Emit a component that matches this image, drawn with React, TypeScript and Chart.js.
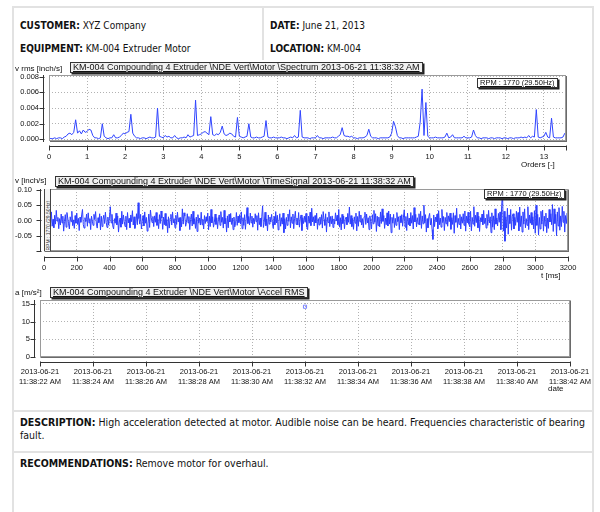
import React, { useEffect, useRef } from "react";
import { Chart, registerables } from "chart.js";

Chart.register(...registerables);

const CHART_FONT = '"Liberation Sans", Arial, sans-serif';
const REPORT_FONT = '"DejaVu Sans Condensed", "DejaVu Sans", sans-serif';

// ---------- Spectrum (v rms vs orders) ----------
const spectrumTitle = "KM-004 Compounding 4 Extruder \\NDE Vert\\Motor \\Spectrum 2013-06-21 11:38:32 AM";
const spectrumStepOrders = 0.05;
// v rms in units of 0.0001 inch/s, one value per 0.05 order bin (0 .. 13.55)
const spectrumValuesE4 = [
  2, 1, 1, 2, 1, 2, 2, 1, 3, 4, 7, 8, 6, 9, 25, 8, 11, 7, 12, 9,
  10, 13, 12, 5, 2, 2, 1, 2, 20, 4, 2, 1, 2, 2, 6, 2, 2, 3, 5, 8,
  7, 9, 10, 32, 8, 4, 2, 2, 1, 2, 2, 1, 2, 3, 2, 2, 3, 40, 4, 3,
  2, 5, 3, 4, 2, 2, 5, 2, 1, 2, 2, 3, 2, 6, 3, 4, 5, 50, 5, 6,
  7, 9, 10, 8, 6, 29, 6, 5, 7, 6, 9, 17, 7, 5, 6, 8, 7, 4, 3, 28,
  4, 3, 2, 3, 4, 20, 3, 2, 2, 3, 2, 2, 3, 4, 24, 3, 2, 2, 3, 2,
  2, 2, 3, 2, 2, 1, 2, 3, 2, 5, 2, 3, 37, 3, 2, 2, 2, 1, 2, 2,
  2, 5, 2, 2, 1, 2, 2, 2, 2, 3, 2, 2, 4, 6, 15, 5, 4, 4, 3, 4,
  2, 2, 1, 2, 2, 2, 3, 5, 13, 4, 2, 2, 2, 1, 2, 2, 2, 2, 2, 3,
  8, 23, 16, 5, 2, 2, 1, 2, 2, 2, 2, 2, 2, 3, 4, 22, 64, 5, 47, 4,
  2, 2, 2, 3, 2, 2, 2, 2, 3, 8, 2, 3, 6, 2, 2, 2, 2, 2, 4, 2,
  2, 2, 3, 12, 5, 2, 2, 1, 2, 2, 2, 1, 2, 2, 1, 2, 2, 2, 1, 2,
  2, 1, 2, 2, 1, 2, 2, 2, 3, 2, 3, 2, 5, 2, 4, 3, 38, 3, 2, 3,
  4, 9, 3, 2, 27, 3, 2, 2, 2, 2, 3, 8,
];
const spectrumXTicks = [0, 1, 2, 3, 4, 5, 6, 7, 8, 9, 10, 11, 12, 13];
const spectrumYTicks = [0, 0.002, 0.004, 0.006, 0.008];

// ---------- Time signal (v vs ms) ----------
const timeTitle = "KM-004 Compounding 4 Extruder \\NDE Vert\\Motor \\TimeSignal 2013-06-21 11:38:32 AM";
const timeStepMs = 5;
// v in units of 0.001 inch/s, one value per 5 ms (0 .. 3200 ms)
const timeSignalE3 = [
  8, -14, 22, -5, 12, -30, -6, 15, -10, 28, -19, 4, -24, 17, -12, 33, -2, 10, -27, 6,
  -15, 21, -8, 14, -35, -3, 19, -22, 26, 8, -11, -28, 12, -4, 30, -17, 2, -26, 16, -9,
  24, -13, 7, -33, 11, -6, 18, 36, -14, -25, 9, -4, 21, -19, 25, -8, 6, -30, 14, -2,
  -16, 20, 3, 29, -12, -25, 9, -7, 22, -31, 14, -20, 4, 17, -10, 27, -6, -23, 11, -15,
  12, 45, -8, 20, -18, -28, 6, -9, 24, -14, 15, -38, -5, 8, -22, 30, -12, 18, -3, -20,
  14, -30, 26, -8, 7, -24, 18, -4, 32, -15, 12, -26, -10, 22, -14, 58, 6, -12, 20, -28,
  -2, 16, -18, 28, -9, 10, -35, -11, 21, -23, 34, 9, -7, 13, -20, 15, -6, 26, -16, 4,
  -27, 19, -10, 31, 8, -29, 11, -14, 23, -17, 3, -40, 12, -25, 7, 20, -15, 28, -8, 6,
  -24, 17, -13, 27, -5, 9, -33, 10, -21, 38, -12, 25, 14, -19, -6, 22, -8, 13, -30, 3,
  21, -18, 30, -12, 6, -26, 11, -36, 19, -9, 8, -15, 27, -14, 4, -28, 16, -10, 12, -3,
  24, -31, 14, -20, 36, -8, 12, -22, -7, 21, -13, 9, -27, 5, 18, -16, 29, -6, 10, -25,
  33, -11, 7, -38, 15, -24, 20, -5, 23, -13, 8, -30, 11, -21, -9, 26, -16, 14, -7, 19,
  -12, 28, -27, 9, -16, 19, -29, 5, 42, -10, 13, -15, 24, -8, 14, -22, 7, -11, 22, -4,
  16, -32, 25, -14, 8, -20, 12, 48, -23, -6, 27, -17, 5, -34, 18, -12, 11, -5, 20, -9,
  -26, 13, -14, 29, -8, 17, -31, -4, 22, -19, 9, -12, 24, -40, 6, -28, 10, -16, 21, -3,
  35, -24, 12, -9, 21, -27, 7, 30, -13, 8, -15, 26, -22, 5, 18, -33, 9, -10, 14, -6,
  23, -21, -30, 14, -9, 27, -17, 40, -5, 12, -18, 16, -8, 24, -29, 6, -15, 11, -12, 19,
  -25, 29, 3, -16, 22, -38, 10, -7, 28, -20, 13, -11, 15, -23, 5, -12, 25, -2, 17, -14,
  36, -22, 9, -31, 20, -10, 14, -27, 4, 11, -14, 23, -6, 44, -12, 16, -20, 7, -29, 12,
  -9, 24, -34, 13, -19, 30, -5, 18, -15, 6, -24, 12, 27, -13, 21, -8, 9, -30, 15, -4,
  -28, 19, -11, 33, -6, 22, -36, 14, -17, 11, -21, 28, -10, 38, -3, 16, -26, 8, -14, 25,
  -18, 31, -12, 21, -40, 10, -9, 20, -23, 7, -16, 26, -4, 12, -30, 15, -7, 19, -19, 11,
  35, -22, 13, -33, 24, -14, 8, -18, 26, -9, 16, -28, 42, -5, 20, -21, 9, -12, 22, -15,
  30, -26, 15, -11, 50, -8, 19, -38, 6, -24, 12, 23, -15, 7, -30, -62, 18, -20, 11, -5,
  21, -27, 32, -14, 8, -22, 36, -7, 13, -33, 10, -11, 26, -19, 15, -4, 24, -29, 9, -13,
  25, -42, 16, -6, 40, -23, 7, -13, 20, -28, 12, -9, 22, -16, 31, -35, 14, -8, 27, -12,
  -21, 30, -34, 10, -12, 45, -19, 17, -7, 27, -24, 14, -36, 9, -5, 21, -14, 33, -10, 8,
  -25, 20, -16, 33, -8, 12, -40, 25, -22, 15, -30, 38, -12, 8, -18, 23, -6, 28, -30, 48,
  95, -35, 30, -68, 12, -25, 40, -45, 18, -10, 36, -32, 14, 22, -28, 10, -16, 30, -6, 26,
  -34, 44, -20, 15, -38, 28, -12, 38, -24, 6, -16, 45, -30, 18, -9, 26, -14, 12, -28, 32,
  -42, 50, -16, 20, -48, 10, -28, 30, -12, 34, -35, 14, -18, 24, -40, 8, -26, 36, -5, 22,
  -14, 52, -36, 38, -10, 20, -50, 28, -18, 42, -32, 15, -20, 46, -6, 30, -38, 16, -10, 24,
  -8,
];
const timeXTicks = [0, 200, 400, 600, 800, 1000, 1200, 1400, 1600, 1800, 2000, 2200, 2400, 2600, 2800, 3000, 3200];
const timeYTicks = [-0.1, -0.05, 0, 0.05, 0.1];

// ---------- Accel RMS trend ----------
const accelTitle = "KM-004 Compounding 4 Extruder \\NDE Vert\\Motor \\Accel RMS";
const accelDate = "2013-06-21";
const accelTimePrefix = "11:38:";
const accelSeconds = [32];
const accelValues = [14.2];
const accelXTicks = [22, 24, 26, 28, 30, 32, 34, 36, 38, 40, 42];
const accelYTicks = [0, 5, 10, 15];

const rpmLabel = "RPM : 1770 (29.50Hz)";

// ---------- plugin: framed plot box + detached axis lines ----------
const axesFramePlugin = {
  id: "axesFrame",
  afterDraw(chart: any, _args: any, opts: any) {
    const { ctx, chartArea: a, scales } = chart;
    const xs = scales.x;
    const ys = scales.y;
    const L = Math.round(a.left);
    const R = Math.round(a.right);
    const T = Math.round(a.top);
    const B = Math.round(a.bottom);
    ctx.save();
    ctx.lineWidth = 1;
    ctx.strokeStyle = "#9a9a9a";
    ctx.strokeRect(L + 0.5, T + 0.5, R - L - 1, B - T - 1);
    ctx.strokeStyle = "#6a6a6a";
    ctx.beginPath();
    ctx.moveTo(R + 0.5, T + 1);
    ctx.lineTo(R + 0.5, B + 1);
    ctx.moveTo(L + 1, B + 0.5);
    ctx.lineTo(R + 1, B + 0.5);
    ctx.stroke();

    ctx.strokeStyle = "#333";
    ctx.beginPath();
    const yx = L - opts.yGap + 0.5;
    ctx.moveTo(yx, T);
    ctx.lineTo(yx, B + 1);
    for (const t of ys.ticks) {
      const py = Math.round(ys.getPixelForValue(t.value)) + 0.5;
      ctx.moveTo(yx - opts.tick, py);
      ctx.lineTo(yx + 1, py);
    }
    const xy = B + opts.xGap + 0.5;
    ctx.moveTo(L, xy);
    ctx.lineTo(R + 1, xy);
    for (const t of xs.ticks) {
      const px = Math.round(xs.getPixelForValue(t.value)) + 0.5;
      ctx.moveTo(px, xy - 1);
      ctx.lineTo(px, xy + opts.tick);
    }
    if (opts.endTick) {
      ctx.moveTo(R + 0.5, xy - 1);
      ctx.lineTo(R + 0.5, xy + opts.tick);
    }
    ctx.stroke();
    ctx.restore();
  },
};

const tickFont = { family: CHART_FONT, size: 7.5 };
const gridStyle = { color: "#b2b2b2", drawTicks: false, lineWidth: 1 };
const borderStyle = { display: false, dash: [1, 2] };

function baseOptions(padding: any, frame: any) {
  return {
    animation: false,
    responsive: false,
    events: [],
    layout: { padding },
    plugins: { legend: { display: false }, tooltip: { enabled: false }, axesFrame: frame },
  };
}

function spectrumConfig() {
  return {
    type: "line",
    data: {
      datasets: [
        {
          data: spectrumValuesE4.map((v, i) => ({ x: i * spectrumStepOrders, y: v / 10000 })),
          borderColor: "#2f44ff",
          borderWidth: 1,
          pointRadius: 0,
          tension: 0,
          fill: false,
        },
      ],
    },
    options: {
      ...baseOptions({ left: 0, right: 34, top: 15, bottom: 4 }, { yGap: 6, xGap: 5, tick: 4, endTick: true }),
      scales: {
        x: {
          type: "linear", min: 0, max: 13.58, grid: gridStyle, border: borderStyle,
          afterBuildTicks: (s: any) => { s.ticks = spectrumXTicks.map((v) => ({ value: v })); },
          afterFit: (s: any) => { s.height = 25; },
          ticks: { padding: 11, color: "#111", font: tickFont, maxRotation: 0, autoSkip: false, callback: (v: any) => String(v) },
        },
        y: {
          type: "linear", min: -0.0002, max: 0.0082, grid: gridStyle, border: borderStyle,
          afterBuildTicks: (s: any) => { s.ticks = spectrumYTicks.map((v) => ({ value: v })); },
          afterFit: (s: any) => { s.width = 49; },
          ticks: { padding: 10, color: "#111", font: tickFont, callback: (v: any) => Number(v).toFixed(3) },
        },
      },
    },
    plugins: [axesFramePlugin],
  };
}

function timeConfig() {
  return {
    type: "line",
    data: {
      datasets: [
        {
          data: timeSignalE3.map((v, i) => ({ x: i * timeStepMs, y: v / 1000 })),
          borderColor: "#2b3dff",
          borderWidth: 1,
          pointRadius: 0,
          tension: 0,
          fill: false,
        },
      ],
    },
    options: {
      ...baseOptions({ left: 0, right: 32, top: 19, bottom: 4 }, { yGap: 4, xGap: 6, tick: 4, endTick: false }),
      scales: {
        x: {
          type: "linear", min: 0, max: 3200, grid: gridStyle, border: borderStyle,
          afterBuildTicks: (s: any) => { s.ticks = timeXTicks.map((v) => ({ value: v })); },
          afterFit: (s: any) => { s.height = 25; },
          ticks: { padding: 12, color: "#111", font: tickFont, maxRotation: 0, autoSkip: false, callback: (v: any) => String(v) },
        },
        y: {
          type: "linear", min: -0.1, max: 0.103, grid: gridStyle, border: borderStyle,
          afterBuildTicks: (s: any) => { s.ticks = timeYTicks.map((v) => ({ value: v })); },
          afterFit: (s: any) => { s.width = 44; },
          ticks: {
            padding: 12, color: "#111", font: tickFont,
            callback: (v: any) => (Math.abs(Number(v) + 0.1) < 1e-9 ? "" : Number(v).toFixed(2)),
          },
        },
      },
    },
    plugins: [axesFramePlugin],
  };
}

function accelConfig() {
  return {
    type: "scatter",
    data: {
      datasets: [
        {
          data: accelSeconds.map((s, i) => ({ x: s, y: accelValues[i] })),
          pointStyle: "rect",
          pointRadius: 2.2,
          borderColor: "#7a82ff",
          backgroundColor: "rgba(255,255,255,0)",
          borderWidth: 1,
        },
      ],
    },
    options: {
      ...baseOptions({ left: 0, right: 29, top: 20, bottom: 4 }, { yGap: 6, xGap: 5, tick: 4, endTick: false }),
      scales: {
        x: {
          type: "linear", min: 22, max: 42, grid: gridStyle, border: borderStyle,
          afterBuildTicks: (s: any) => { s.ticks = accelXTicks.map((v) => ({ value: v })); },
          afterFit: (s: any) => { s.height = 39; },
          ticks: {
            padding: 9, color: "#111", font: { ...tickFont, lineHeight: 1.45 }, maxRotation: 0, autoSkip: false,
            callback: (v: any) => [accelDate, `${accelTimePrefix}${v} AM`],
          },
        },
        y: {
          type: "linear", min: 0, max: 16.1, grid: gridStyle, border: borderStyle,
          afterBuildTicks: (s: any) => { s.ticks = accelYTicks.map((v) => ({ value: v })); },
          afterFit: (s: any) => { s.width = 40; },
          ticks: { padding: 10, color: "#111", font: tickFont, callback: (v: any) => String(v) },
        },
      },
    },
    plugins: [axesFramePlugin],
  };
}

function ChartCanvas({ top, height, makeConfig }: { top: number; height: number; makeConfig: () => any }) {
  const ref = useRef<HTMLCanvasElement>(null);
  useEffect(() => {
    const chart = new Chart(ref.current as HTMLCanvasElement, makeConfig());
    return () => chart.destroy();
  }, []);
  return (
    <canvas
      ref={ref}
      width={600}
      height={height}
      style={{ position: "absolute", left: 0, top, width: 600, height, display: "block" }}
    />
  );
}

const titleBox = (left: number, top: number, text: string, bg = "#f0f0f0", size = 9) => (
  <div
    style={{
      position: "absolute",
      left,
      top,
      border: "1px solid #333",
      boxShadow: "1.5px 1.5px 0 #222",
      background: bg,
      font: `${size}px ${CHART_FONT}`,
      lineHeight: `${Math.round(size)}px`,
      padding: "0 2px",
      textDecoration: "underline",
      color: "#111",
      whiteSpace: "nowrap",
    }}
  >
    {text}
  </div>
);

const axisText = (left: number, top: number, text: React.ReactNode) => (
  <div style={{ position: "absolute", left, top, font: `8px ${CHART_FONT}`, lineHeight: "9px", color: "#111", whiteSpace: "nowrap" }}>
    {text}
  </div>
);

const line = (left: number, top: number, width: number, height: number) => (
  <div style={{ position: "absolute", left, top, width, height, background: "#e2e2e2" }} />
);

const reportText = (left: number, top: number, label: string, value: React.ReactNode, size = 10, lh = 13) => (
  <div
    style={{
      position: "absolute",
      left,
      top,
      font: `${size}px ${REPORT_FONT}`,
      lineHeight: `${lh}px`,
      color: "#111",
      whiteSpace: "nowrap",
    }}
  >
    <b>{label}</b> {value}
  </div>
);

export default function App() {
  return (
    <div style={{ position: "fixed", left: 0, top: 0, width: 600, height: 512, background: "#fff", overflow: "hidden" }}>
      {line(12, 6, 581, 2)}
      {line(12, 6, 2, 506)}
      {line(592, 6, 2, 506)}
      {line(262, 6, 2, 54)}
      {line(12, 410, 581, 2)}
      {line(12, 451, 581, 2)}

      {reportText(20, 19, "CUSTOMER:", "XYZ Company")}
      {reportText(20, 42, "EQUIPMENT:", "KM-004 Extruder Motor")}
      {reportText(270, 19, "DATE:", "June 21, 2013")}
      {reportText(270, 42, "LOCATION:", "KM-004")}

      <ChartCanvas top={60} height={110} makeConfig={spectrumConfig} />
      <ChartCanvas top={170} height={110} makeConfig={timeConfig} />
      <ChartCanvas top={280} height={120} makeConfig={accelConfig} />

      {axisText(15, 64, "v rms [inch/s]")}
      {titleBox(70, 62, spectrumTitle)}
      {titleBox(477, 78, rpmLabel, "#fff", 7.5)}
      {axisText(521, 160, "Orders [-]")}

      {axisText(15, 176, "v [inch/s]")}
      {titleBox(55, 176, timeTitle)}
      {titleBox(484, 189, rpmLabel, "#fff", 7.5)}
      {axisText(541, 271, "t [ms]")}
      <div
        style={{
          position: "absolute", left: 44, top: 189, width: 5, height: 62,
          borderLeft: "1px solid #444", borderRight: "1px solid #444", background: "#f4f4f4", overflow: "hidden",
        }}
      >
        <div style={{ position: "absolute", left: -28, top: 28, width: 62, transform: "rotate(-90deg)", font: `5px ${CHART_FONT}`, lineHeight: "5px", color: "#333", whiteSpace: "nowrap" }}>
          {rpmLabel}
        </div>
      </div>

      {axisText(15, 288, <span>a [m/s²]</span>)}
      {titleBox(50, 287, accelTitle)}
      {axisText(548, 384, "date")}

      <div style={{ position: "absolute", left: 20, top: 416, font: `10.5px ${REPORT_FONT}`, lineHeight: "13px", color: "#111", whiteSpace: "nowrap" }}>
        <b>DESCRIPTION:</b> High acceleration detected at motor. Audible noise can be heard. Frequencies characteristic of bearing
        <br />
        fault.
      </div>
      {reportText(20, 457, "RECOMMENDATIONS:", "Remove motor for overhaul.", 10.5)}
    </div>
  );
}
